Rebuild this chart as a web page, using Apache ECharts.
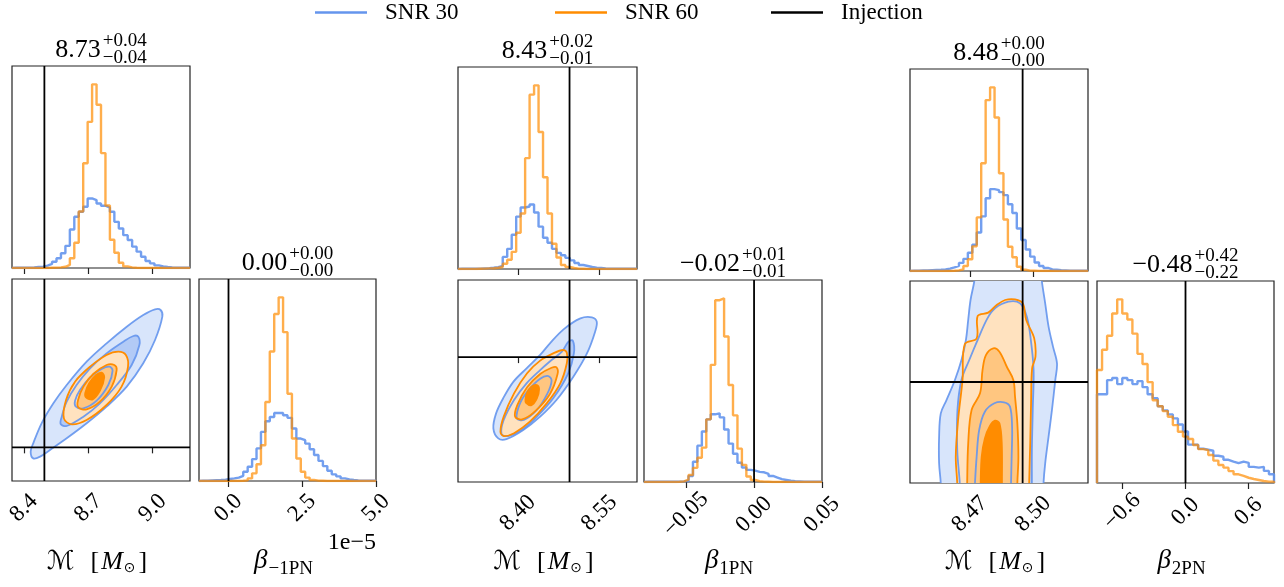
<!DOCTYPE html>
<html>
<head>
<meta charset="utf-8">
<script src="https://cdn.jsdelivr.net/npm/echarts@6/dist/echarts.min.js"></script>
<style>
  html, body { margin: 0; padding: 0; background: #fff; }
  #chart { width: 1284px; height: 587px; }
</style>
</head>
<body>
<div id="chart"></div>
<script>
// ---------- series names and injected values ----------
const seriesNames = ['SNR 30', 'SNR 60', 'Injection'];
const injectionMc = 8.495;
const injectionBeta = 0;

// ---------- axis ranges for the three runs ----------
const mcRanges = [[8.344, 9.174], [8.290, 8.619], [8.4416, 8.526]];
const betaRanges = [[-1, 5], [-0.081, 0.05], [-0.84, 0.84]];   // beta_-1PN is given in units of 1e-5

// ---------- tick values and tick labels ----------
const mcTicks = [[8.4, 8.7, 9.0], [8.40, 8.55], [8.47, 8.50]];
const mcTickText = [['8.4', '8.7', '9.0'], ['8.40', '8.55'], ['8.47', '8.50']];
const betaTicks = [[0, 2.5, 5], [-0.05, 0, 0.05], [-0.6, 0, 0.6]];
const betaTickText = [['0.0', '2.5', '5.0'], ['\u22120.05', '0.00', '0.05'], ['\u22120.6', '0.0', '0.6']];

// ---------- panel titles: median, upper and lower error ----------
const mcTitles = [['8.73', '+0.04', '\u22120.04'], ['8.43', '+0.02', '\u22120.01'], ['8.48', '+0.00', '\u22120.00']];
const betaTitles = [['0.00', '+0.00', '\u22120.00'], ['\u22120.02', '+0.01', '\u22120.01'], ['\u22120.48', '+0.42', '\u22120.22']];
const betaSubscripts = ['\u22121PN', '1PN', '2PN'];

// ---------- 1D marginal histograms (relative counts per bin) ----------
const mc1Snr30 = [1,1,1,2,3,5,7,12,20,31,48,73,110,191,254,279,304,345,337,320,309,300,279,229,196,163,139,106,81,56,35,23,13,8,5,3,2,1,1,1];
const mc1Snr60 = [0,0,0,0,0,0,0,0,1,2,3,6,15,48,125,280,520,725,911,810,570,310,140,76,26,8,3,1,0,0,0,0,0,0,0,0,0,0,0,0];
const beta1Snr30 = [2,2,3,4,5,7,10,13,17,26,46,71,109,162,244,297,318,338,338,327,314,261,211,203,186,158,129,100,74,51,33,23,13,8,5,3,2,1,1,1];
const beta1Snr60 = [0,0,0,0,0,0,0,0,0,1,3,13,38,83,178,393,644,830,913,740,434,211,112,46,17,5,2,1,0,0,0,0,0,0,0,0,0,0,0,0];

const mc2Snr30 = [1,1,1,2,2,3,4,6,9,15,60,100,170,260,305,310,320,280,210,155,130,100,80,68,55,43,30,20,15,10,7,5,3,2,1,1,1,1,1,1];
const mc2Snr60 = [0,0,0,0,1,2,3,4,6,10,26,46,85,180,275,550,865,911,680,455,275,125,57,20,10,5,2,1,0,0,0,0,0,0,0,0,0,0,0,0];
const beta2Snr30 = [1,1,1,1,1,1,1,2,3,5,30,100,180,250,310,335,340,320,260,190,140,95,72,60,56,50,48,40,30,22,14,10,6,4,3,2,2,2,2,2];
const beta2Snr60 = [0,0,0,0,0,0,0,1,3,12,35,70,120,170,310,580,900,909,720,480,330,165,85,27,10,4,2,1,0,0,0,0,0,0,0,0,0,0,0,0];

const mc3Snr30 = [2,2,3,3,4,5,6,8,12,18,25,40,60,90,130,190,270,360,405,400,390,375,330,287,210,153,106,71,42,25,15,8,6,4,3,2,2,1,1,1];
const mc3Snr60 = [0,0,0,0,0,0,0,0,0,1,3,8,25,58,122,265,533,845,908,759,483,255,120,68,21,6,2,1,0,0,0,0,0,0,0,0,0,0,0,0];
const beta3Snr30 = [440,440,510,520,490,520,510,490,505,475,440,420,380,360,340,320,290,255,190,190,170,165,160,135,130,115,106,98,106,100,80,76,80,60,43];
const beta3Snr60 = [560,660,730,840,910,840,810,740,640,590,500,410,380,356,328,287,254,230,218,188,168,163,139,111,89,76,59,43,35,26,20,15,10,7,7];

// ---------- 2D credible contours [chirp mass, beta], outer -> inner ----------
const c1Snr30 = [
  [[8.443,-0.327],[8.475,-0.277],[8.521,-0.079],[8.599,0.267],[8.692,0.713],[8.785,1.208],[8.879,1.802],[8.956,2.495],[9.011,3.188],[9.045,3.881],[9.037,4.079],[9.011,4.099],[8.956,3.931],[8.879,3.584],[8.785,3.089],[8.692,2.545],[8.599,1.851],[8.537,1.307],[8.482,0.713],[8.443,0.119],[8.431,-0.129]],
  [[8.571,0.693],[8.599,0.634],[8.677,0.911],[8.754,1.307],[8.832,1.851],[8.902,2.446],[8.938,3.040],[8.933,3.287],[8.910,3.307],[8.863,3.139],[8.785,2.792],[8.708,2.347],[8.645,1.851],[8.599,1.356],[8.576,0.911]],
  [[8.642,1.208],[8.677,1.158],[8.739,1.386],[8.793,1.851],[8.813,2.277],[8.798,2.396],[8.762,2.327],[8.708,2.079],[8.661,1.703],[8.638,1.386]]
];
const c1Snr60 = [
  [[8.586,0.861],[8.622,0.683],[8.692,0.812],[8.785,1.257],[8.855,1.802],[8.885,2.396],[8.875,2.743],[8.840,2.842],[8.785,2.743],[8.708,2.396],[8.638,1.950],[8.596,1.406]],
  [[8.653,1.188],[8.692,1.129],[8.754,1.356],[8.809,1.802],[8.832,2.297],[8.821,2.446],[8.785,2.446],[8.723,2.178],[8.677,1.802],[8.652,1.406]],
  [[8.689,1.485],[8.720,1.426],[8.754,1.683],[8.774,2.079],[8.762,2.218],[8.736,2.149],[8.704,1.901],[8.686,1.624]]
];
const c2Snr30 = [
  [[8.355,-0.0462],[8.364,-0.0527],[8.379,-0.0532],[8.410,-0.0473],[8.441,-0.0386],[8.471,-0.0278],[8.502,-0.0127],[8.527,0.0024],[8.542,0.0165],[8.545,0.0230],[8.536,0.0258],[8.515,0.0251],[8.484,0.0180],[8.459,0.0089],[8.441,0.0014],[8.416,-0.0073],[8.392,-0.0159],[8.373,-0.0267],[8.360,-0.0365]],
  [[8.370,-0.0499],[8.382,-0.0512],[8.407,-0.0473],[8.435,-0.0386],[8.465,-0.0267],[8.492,-0.0110],[8.503,0.0024],[8.501,0.0107],[8.493,0.0100],[8.481,0.0035],[8.462,-0.0019],[8.441,-0.0084],[8.416,-0.0170],[8.393,-0.0278],[8.374,-0.0408]],
  [[8.398,-0.0397],[8.411,-0.0408],[8.435,-0.0343],[8.454,-0.0239],[8.462,-0.0153],[8.456,-0.0123],[8.441,-0.0140],[8.420,-0.0213],[8.404,-0.0300]]
];
const c2Snr60 = [
  [[8.368,-0.0484],[8.374,-0.0512],[8.393,-0.0494],[8.422,-0.0419],[8.453,-0.0300],[8.478,-0.0170],[8.490,-0.0040],[8.490,0.0029],[8.483,0.0046],[8.465,0.0024],[8.441,-0.0023],[8.417,-0.0105],[8.393,-0.0235],[8.374,-0.0386]],
  [[8.395,-0.0386],[8.408,-0.0404],[8.431,-0.0354],[8.459,-0.0239],[8.473,-0.0110],[8.471,-0.0066],[8.462,-0.0069],[8.441,-0.0110],[8.417,-0.0196],[8.399,-0.0311]],
  [[8.415,-0.0296],[8.425,-0.0311],[8.435,-0.0267],[8.439,-0.0209],[8.435,-0.0181],[8.425,-0.0192],[8.417,-0.0231],[8.414,-0.0274]]
];
const c3Snr30 = [
  [[8.4724,0.931],[8.4721,0.840],[8.4703,0.682],[8.4692,0.516],[8.4681,0.349],[8.4660,0.183],[8.4629,0.017],[8.4589,-0.150],[8.4562,-0.261],[8.4554,-0.455],[8.4554,-0.676],[8.4562,-0.843],[8.4563,-0.954],[8.5049,-0.954],[8.5049,-0.843],[8.5057,-0.676],[8.5073,-0.455],[8.5089,-0.233],[8.5105,0.017],[8.5113,0.155],[8.5094,0.294],[8.5073,0.460],[8.5057,0.654],[8.5041,0.840],[8.5037,0.931]],
  [[8.4652,-0.954],[8.4652,-0.843],[8.4640,-0.566],[8.4641,-0.233],[8.4660,0.017],[8.4697,0.183],[8.4740,0.363],[8.4783,0.529],[8.4819,0.613],[8.4883,0.668],[8.4938,0.654],[8.4970,0.543],[8.4989,0.349],[8.5002,0.100],[8.4998,-0.233],[8.4994,-0.566],[8.4994,-0.843],[8.4994,-0.954]],
  [[8.4722,-0.954],[8.4724,-0.843],[8.4732,-0.621],[8.4744,-0.399],[8.4771,-0.247],[8.4816,-0.177],[8.4862,-0.169],[8.4890,-0.205],[8.4900,-0.372],[8.4898,-0.621],[8.4895,-0.843],[8.4895,-0.954]]
];
const c3Snr60 = [
  [[8.4640,-0.954],[8.4640,-0.843],[8.4633,-0.621],[8.4644,-0.316],[8.4665,0.017],[8.4676,0.316],[8.4732,0.363],[8.4737,0.549],[8.4787,0.577],[8.4827,0.640],[8.4867,0.682],[8.4914,0.687],[8.4951,0.654],[8.4967,0.516],[8.5005,0.363],[8.5011,0.211],[8.4995,0.114],[8.4990,-0.177],[8.4986,-0.510],[8.4981,-0.843],[8.4981,-0.954]],
  [[8.4687,-0.954],[8.4687,-0.843],[8.4692,-0.510],[8.4708,-0.233],[8.4748,-0.094],[8.4760,0.100],[8.4776,0.224],[8.4811,0.280],[8.4840,0.252],[8.4875,0.127],[8.4906,0.017],[8.4914,-0.122],[8.4925,-0.344],[8.4930,-0.621],[8.4925,-0.843],[8.4925,-0.954]],
  [[8.4751,-0.954],[8.4751,-0.843],[8.4756,-0.621],[8.4771,-0.469],[8.4795,-0.366],[8.4819,-0.322],[8.4840,-0.344],[8.4851,-0.510],[8.4852,-0.843],[8.4852,-0.954]]
];

// ---------- styling ----------
const SERIF_NAME = 'Liberation Serif';
const SERIF = '"Liberation Serif", serif';
const BLUE = '#6495ed';
const ORANGE = '#ff8c00';
const BLUE_FILLS = ['#d8e5fb', '#b2caf6', '#6495ed'];
const ORANGE_FILLS = ['#ffe2bf', '#ffc680', '#ff8c00'];
const FRAME = '#222';

// pixel layout of the panels: [left, top, width, height]
const layout = [
  { top: [12, 66, 178, 202], joint: [12, 279, 178, 202], side: [199, 279, 177, 202], mcMargin: 27, betaMargin: 27 },
  { top: [458, 67, 179, 202], joint: [458, 280, 179, 202], side: [644, 280, 178, 202], mcMargin: 31, betaMargin: 32.5 },
  { top: [910, 69, 178, 202], joint: [910, 281, 178, 202], side: [1097, 281, 177, 202], mcMargin: 31, betaMargin: 28.5 }
];

const runs = [
  { mc: [mc1Snr30, mc1Snr60], beta: [beta1Snr30, beta1Snr60], joint: [c1Snr30, c1Snr60] },
  { mc: [mc2Snr30, mc2Snr60], beta: [beta2Snr30, beta2Snr60], joint: [c2Snr30, c2Snr60] },
  { mc: [mc3Snr30, mc3Snr60], beta: [beta3Snr30, beta3Snr60], joint: [c3Snr30, c3Snr60] }
];

// ---------- helpers ----------
const measureCtx = document.createElement('canvas').getContext('2d');
function textWidth(str, font) { measureCtx.font = font; return measureCtx.measureText(str).width; }

function txt(x, y, text, font, align) {
  return {
    type: 'text', x: x, y: y, silent: true, z: 20,
    style: { text: text, font: font, fill: '#000', textAlign: align || 'left', align: align || 'left',
             textVerticalAlign: 'middle', verticalAlign: 'middle' }
  };
}

// histogram outline as points for a step line (value holds from a bin's left edge)
function stepData(range, counts) {
  const n = counts.length, w = (range[1] - range[0]) / n;
  const pts = [[range[0], 0]];
  counts.forEach((c, i) => pts.push([range[0] + i * w, c]));
  pts.push([range[1], counts[n - 1]]);
  pts.push([range[1], 0]);
  return pts;
}

const grids = [], xAxes = [], yAxes = [], series = [], graphics = [];

function addGrid(rect, xr, yr, ticks, labels, margin) {
  const gi = grids.length;
  grids.push({ left: rect[0], top: rect[1], width: rect[2], height: rect[3], show: true,
               borderColor: FRAME, borderWidth: 1.2, backgroundColor: 'transparent' });
  xAxes.push({
    gridIndex: gi, type: 'value', min: xr[0], max: xr[1],
    axisLine: { show: false }, splitLine: { show: false },
    axisTick: { show: true, inside: false, length: 6, customValues: ticks, lineStyle: { color: FRAME, width: 1.2 } },
    axisLabel: labels ? {
      show: true, customValues: ticks, rotate: 45, align: 'center', verticalAlign: 'middle', margin: margin,
      fontFamily: SERIF_NAME, fontSize: 23, color: '#000',
      formatter: function (v) {
        let k = 0, d = Infinity;
        ticks.forEach((t, j) => { if (Math.abs(t - v) < d) { d = Math.abs(t - v); k = j; } });
        return labels[k];
      }
    } : { show: false }
  });
  yAxes.push({ gridIndex: gi, type: 'value', min: yr[0], max: yr[1], show: false,
               splitLine: { show: false }, axisLine: { show: false } });
  return gi;
}

function histSeries(gi, range, counts, idx) {
  const color = idx === 0 ? BLUE : ORANGE;
  return {
    type: 'line', name: seriesNames[idx], xAxisIndex: gi, yAxisIndex: gi,
    data: stepData(range, counts), step: 'end', symbol: 'none', showSymbol: false, silent: true,
    lineStyle: { color: color, width: 2.4, opacity: idx === 0 ? 0.9 : 0.7 },
    itemStyle: { color: color }, z: 3
  };
}

function injectionSeries(gi, pts) {
  return {
    type: 'line', name: seriesNames[2], xAxisIndex: gi, yAxisIndex: gi, data: pts,
    symbol: 'none', showSymbol: false, silent: true,
    lineStyle: { color: '#000', width: 1.8 }, itemStyle: { color: '#000' }, z: 6
  };
}

function contourSeries(gi, blue, orange) {
  const layers = [];
  blue.forEach((p, k) => layers.push({ pts: p, fill: BLUE_FILLS[k] }));
  orange.forEach((p, k) => layers.push({ pts: p, fill: ORANGE_FILLS[k] }));
  blue.forEach(p => layers.push({ pts: p, stroke: BLUE, op: 0.9 }));
  orange.forEach(p => layers.push({ pts: p, stroke: ORANGE, op: 1 }));
  return {
    type: 'custom', name: 'contours', xAxisIndex: gi, yAxisIndex: gi, clip: true, silent: true, z: 2,
    data: layers.map((_, k) => [k]),
    renderItem: function (params, api) {
      const L = layers[params.dataIndex];
      const points = L.pts.map(p => api.coord(p));
      return {
        type: 'polygon', shape: { points: points, smooth: 0.35 },
        style: L.fill ? { fill: L.fill, stroke: null }
                      : { fill: null, stroke: L.stroke, lineWidth: 1.8, opacity: L.op }
      };
    }
  };
}

function stackedTitle(cx, cy, parts) {
  const fMain = '26px ' + SERIF, fSmall = '19px ' + SERIF;
  const wm = textWidth(parts[0], fMain);
  const ws = Math.max(textWidth(parts[1], fSmall), textWidth(parts[2], fSmall));
  const x0 = cx - (wm + 2 + ws) / 2;
  return [txt(x0, cy, parts[0], fMain), txt(x0 + wm + 2, cy - 8.5, parts[1], fSmall),
          txt(x0 + wm + 2, cy + 8.5, parts[2], fSmall)];
}

// sequence of text pieces laid out left to right, centred on cx
function mathLabel(cx, cy, parts) {
  const widths = parts.map(p => textWidth(p.t, p.f));
  const total = parts.reduce((s, p, i) => s + widths[i] + (p.gap || 0), 0);
  let x = cx - total / 2;
  return parts.map((p, i) => {
    x += p.gap || 0;
    const el = txt(x, cy + (p.dy || 0), p.t, p.f);
    x += widths[i];
    return el;
  });
}

function chirpLabel(cx, cy) {
  return mathLabel(cx, cy, [
    { t: '\u2133', f: '26px "DejaVu Serif", "DejaVu Sans"' },
    { t: '[', f: '26px ' + SERIF, gap: 16 },
    { t: 'M', f: 'italic 26px ' + SERIF, gap: 2 },
    { t: '\u2299', f: '14px "DejaVu Sans"', gap: 1, dy: 6 },
    { t: ']', f: '26px ' + SERIF, gap: 3 }
  ]);
}

function betaLabel(cx, cy, sub) {
  return mathLabel(cx, cy, [
    { t: '\u03b2', f: 'italic 27px ' + SERIF },
    { t: sub, f: '19px ' + SERIF, gap: 1, dy: 8 }
  ]);
}

// ---------- build the three corner plots ----------
runs.forEach((run, r) => {
  const L = layout[r];
  const mcR = mcRanges[r], bR = betaRanges[r];

  // marginal of chirp mass
  const mcMax = 1.1 * Math.max(...run.mc[0], ...run.mc[1]);
  const gTop = addGrid(L.top, mcR, [0, mcMax], mcTicks[r], null, 0);
  series.push(histSeries(gTop, mcR, run.mc[0], 0), histSeries(gTop, mcR, run.mc[1], 1));
  series.push(injectionSeries(gTop, [[injectionMc, 0], [injectionMc, mcMax]]));

  // joint distribution
  const gJoint = addGrid(L.joint, mcR, bR, mcTicks[r], mcTickText[r], L.mcMargin);
  series.push(contourSeries(gJoint, run.joint[0], run.joint[1]));
  series.push(injectionSeries(gJoint, [[injectionMc, bR[0]], [injectionMc, bR[1]]]));
  series.push(injectionSeries(gJoint, [[mcR[0], injectionBeta], [mcR[1], injectionBeta]]));

  // marginal of the deviation parameter
  const bMax = 1.1 * Math.max(...run.beta[0], ...run.beta[1]);
  const gSide = addGrid(L.side, bR, [0, bMax], betaTicks[r], betaTickText[r], L.betaMargin);
  series.push(histSeries(gSide, bR, run.beta[0], 0), histSeries(gSide, bR, run.beta[1], 1));
  series.push(injectionSeries(gSide, [[injectionBeta, 0], [injectionBeta, bMax]]));

  // titles and axis names
  const topCx = L.top[0] + L.top[2] / 2, sideCx = L.side[0] + L.side[2] / 2;
  graphics.push(...stackedTitle(topCx, L.top[1] - 16, mcTitles[r]));
  graphics.push(...stackedTitle(sideCx, L.side[1] - 16, betaTitles[r]));
  const jointCx = L.joint[0] + L.joint[2] / 2;
  graphics.push(...chirpLabel(jointCx - 4, 562));
  graphics.push(...betaLabel(sideCx - 4, 561, betaSubscripts[r]));
});

// scale factor of the beta_-1PN axis
graphics.push(txt(376, 543, '1e\u22125', '24px ' + SERIF, 'right'));

const legendBase = {
  top: -4, icon: 'rect', itemWidth: 52, itemHeight: 2.5, selectedMode: false,
  textStyle: { fontFamily: SERIF_NAME, fontSize: 23, color: '#000', padding: [0, 0, 0, 13] }
};

const chart = echarts.init(document.getElementById('chart'), null, { renderer: 'canvas' });
chart.setOption({
  animation: false,
  backgroundColor: '#fff',
  legend: [
    Object.assign({}, legendBase, { left: 310, data: [seriesNames[0]] }),
    Object.assign({}, legendBase, { left: 550, data: [seriesNames[1]] }),
    Object.assign({}, legendBase, { left: 766, data: [seriesNames[2]] })
  ],
  grid: grids,
  xAxis: xAxes,
  yAxis: yAxes,
  series: series,
  graphic: graphics
});
</script>
</body>
</html>
